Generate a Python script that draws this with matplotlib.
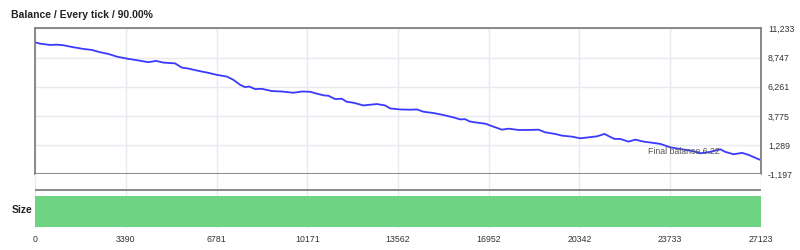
import matplotlib.pyplot as plt
import numpy as np

plt.rcParams['font.family'] = ['Liberation Sans', 'DejaVu Sans']

# balance curve (tick number, balance)
ticks = [0, 187, 561, 811, 1058, 1431, 1805, 2119, 2429, 2740, 3054, 3427, 3801,
         4235, 4522, 4795, 5233, 5483, 5730, 6103, 6477, 6791, 7165, 7411, 7662,
         7849, 7998, 8223, 8473, 8847, 9220, 9654, 9968, 10278, 10588, 10813,
         10962, 11213, 11463, 11650, 11897, 12270, 12771, 13081, 13268, 13642,
         14016, 14266, 14513, 14886, 15260, 15634, 15884, 16071, 16232, 16445,
         16819, 17129, 17443, 17690, 18063, 18437, 18811, 19061, 19435, 19685,
         20059, 20369, 20680, 20994, 21278, 21491, 21652, 21864, 22175, 22425,
         22735, 23109, 23359, 23733, 24170, 24544, 24855, 25229, 25603, 25789,
         26099, 26413, 26660, 26974, 27123]
balance = [10040, 9926, 9816, 9841, 9791, 9621, 9477, 9392, 9197, 9052, 8823, 8654,
           8518, 8348, 8458, 8314, 8246, 7890, 7805, 7610, 7440, 7270, 7126, 6846,
           6422, 6227, 6278, 6057, 6083, 5888, 5854, 5743, 5854, 5828, 5633, 5514,
           5489, 5209, 5234, 4980, 4895, 4666, 4784, 4666, 4411, 4326, 4301, 4326,
           4131, 4021, 3851, 3647, 3478, 3495, 3308, 3223, 3113, 2858, 2604, 2689,
           2578, 2578, 2604, 2375, 2239, 2095, 2010, 1866, 1951, 2036, 2239, 1984,
           1815, 1815, 1586, 1755, 1586, 1475, 1391, 1102, 932, 797, 593, 712, 932,
           712, 508, 627, 457, 143, 6.22]

x_ticks = [0, 3390, 6781, 10171, 13562, 16952, 20342, 23733, 27123]
y_ticks = [11233, 8747, 6261, 3775, 1289, -1197]
size_ticks = [0, 27123]
size_vals = [1, 1]
final_balance = 6.22

grid_col = '#e8eaf2'
text_col = '#333333'
W, H = 800, 250

fig = plt.figure(figsize=(8, 2.5), dpi=100)
ax = fig.add_axes([35 / W, 1 - 174.3 / H, 726 / W, 146 / H])
ax2 = fig.add_axes([35 / W, 1 - 228 / H, 726 / W, 53.7 / H])

# main balance panel
ax.plot(ticks, balance, color='#3a3aff', lw=1.3)
ax.set_xlim(0, 27123)
ax.set_ylim(-1197, 11233)
ax.set_xticks(x_ticks)
ax.set_yticks(y_ticks)
ax.set_yticklabels([f'{v:,}' for v in y_ticks])
ax.yaxis.tick_right()
ax.tick_params(axis='y', length=0, pad=5, labelsize=6.3, colors=text_col)
ax.tick_params(axis='x', length=0, labelbottom=False)
ax.grid(True, color=grid_col, lw=1)
ax.set_axisbelow(True)
for s in ax.spines.values():
    s.set_color('#808080')
    s.set_linewidth(1.3)
ax.text(0.943, 0.158, f'Final balance {final_balance:.2f}', transform=ax.transAxes,
        ha='right', va='center', fontsize=6.3, color='#555555')

# size panel
ax2.fill_between(size_ticks, 0.013, 0.596, color='#6fd384', lw=0)
ax2.axhline(0.708, color='#808080', lw=1.3)
ax2.set_xlim(0, 27123)
ax2.set_ylim(0, 1)
ax2.set_xticks(x_ticks)
ax2.set_yticks([])
ax2.grid(True, axis='x', color=grid_col, lw=1)
ax2.set_axisbelow(True)
for s in ax2.spines.values():
    s.set_visible(False)
ax2.tick_params(axis='x', length=0, pad=5, labelsize=6.3, colors=text_col)

fig.text(11 / W, 1 - 15 / H, 'Balance / Every tick / 90.00%', fontsize=7.5,
         fontweight='bold', color='#222222', va='center', ha='left')
fig.text(32 / W, 1 - 210 / H, 'Size', fontsize=7.5, fontweight='bold',
         color='#222222', va='center', ha='right')

fig.savefig('out.png', dpi=100)
